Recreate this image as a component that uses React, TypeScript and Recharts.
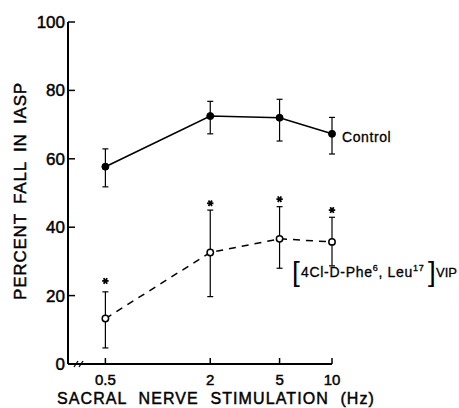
import React from 'react';
import {
  ComposedChart,
  Line,
  Scatter,
  XAxis,
  YAxis,
  ErrorBar,
  LabelList,
  Label,
} from 'recharts';

// stimulation frequency (Hz) and percent fall in IASP
const hz = [0.5, 2, 5, 10];
const controlMean = [57.7, 72.5, 72.0, 67.3];
const controlHigh = [62.9, 76.8, 77.4, 72.1];
const controlLow = [51.8, 67.3, 65.2, 61.4];
const vipMean = [13.3, 32.6, 36.6, 35.7];
const vipHigh = [21.1, 45.0, 46.0, 42.9];
const vipLow = [4.7, 19.7, 28.0, 28.7];
const starLevel = [24.3, 47.0, 48.2, 45.0];

const xTicks = [0.5, 2, 5, 10];
const yTicks = [0, 20, 40, 60, 80, 100];

const FONT = '"Liberation Sans", Arial, sans-serif';
// thin outline on text to get the heavier look of the printed figure
const ink = { fill: '#000', stroke: '#000', strokeWidth: 0.45 };

const rows = hz.map((f, i) => ({
  hz: f,
  control: controlMean[i],
  controlErr: [controlMean[i] - controlLow[i], controlHigh[i] - controlMean[i]],
  vip: vipMean[i],
  vipErr: [vipMean[i] - vipLow[i], vipHigh[i] - vipMean[i]],
  star: starLevel[i],
}));

// x ticks point up into the plot, label below
const XTick = (props: any) => {
  const { x, y, payload } = props;
  return (
    <g>
      <line x1={x} y1={y} x2={x} y2={y - 6} stroke="#000" strokeWidth={1.5} />
      <text x={x} y={y + 21} textAnchor="middle" fontSize={15} fontFamily={FONT} {...ink}>
        {payload.value}
      </text>
    </g>
  );
};

// y ticks point right into the plot; the 0 tick also carries the axis break
const YTick = (props: any) => {
  const { x, y, payload } = props;
  return (
    <g>
      {payload.value !== 0 && (
        <line x1={x} y1={y} x2={x + 7} y2={y} stroke="#000" strokeWidth={1.5} />
      )}
      {payload.value === 0 && (
        <g stroke="#000" strokeWidth={1.3}>
          <line x1={x + 6} y1={y + 3} x2={x + 10} y2={y - 3} />
          <line x1={x + 11} y1={y + 3} x2={x + 15} y2={y - 3} />
        </g>
      )}
      <text x={x - 3} y={y + 6} textAnchor="end" fontSize={17} fontFamily={FONT} {...ink}>
        {payload.value}
      </text>
    </g>
  );
};

const Star = (props: any) => {
  const { cx, cy } = props;
  if (cx == null || cy == null) return null;
  return (
    <g stroke="#000" strokeWidth={1.8}>
      <line x1={cx - 3.2} y1={cy} x2={cx + 3.2} y2={cy} />
      <line x1={cx - 1.7} y1={cy - 2.8} x2={cx + 1.7} y2={cy + 2.8} />
      <line x1={cx - 1.7} y1={cy + 2.8} x2={cx + 1.7} y2={cy - 2.8} />
    </g>
  );
};

const ControlLabel = (props: any) => {
  const { x, y, index } = props;
  if (index !== hz.length - 1) return null;
  return (
    <text x={x + 10} y={y + 8} fontSize={14} fontFamily={FONT} letterSpacing={0.6} {...ink} strokeWidth={0.3}>
      Control
    </text>
  );
};

const VipLabel = (props: any) => {
  const { x, y, index } = props;
  if (index !== hz.length - 1) return null;
  const bx = x - 40;
  const by = y + 35;
  return (
    <g fontFamily={FONT} fill="#000">
      <text x={bx} y={by + 4} fontSize={28} fontWeight={300}>[</text>
      <text x={bx + 9} y={by} fontSize={14} letterSpacing={0.7} {...ink} strokeWidth={0.3}>
        4Cl-D-Phe
        <tspan fontSize={9} dy={-6}>6</tspan>
        <tspan dy={6}>, Leu</tspan>
        <tspan fontSize={9} dy={-6}>17</tspan>
      </text>
      <text x={bx + 136} y={by + 4} fontSize={28} fontWeight={300}>]</text>
      <text x={bx + 144} y={by} fontSize={13} {...ink} strokeWidth={0.3}>VIP</text>
    </g>
  );
};

export default function App() {
  return (
    <div style={{ position: 'absolute', left: 0, top: 0, background: '#fff' }}>
      <ComposedChart
        width={459}
        height={408}
        data={rows}
        margin={{ top: 22, right: 127, bottom: 0, left: 0 }}
      >
        <XAxis
          dataKey="hz"
          type="number"
          scale="log"
          domain={[0.305, 10]}
          ticks={xTicks}
          height={44}
          tickSize={0}
          tickMargin={0}
          tickLine={false}
          axisLine={{ stroke: '#000', strokeWidth: 2 }}
          tick={<XTick />}
          interval={0}
        >
          <Label
            content={(p: any) => {
              const vb = p.viewBox;
              return (
                <text
                  x={vb.x + vb.width / 2 + 16}
                  y={vb.y + 40}
                  textAnchor="middle"
                  fontSize={16}
                  fontFamily={FONT}
                  letterSpacing={1.1}
                  wordSpacing={6}
                  {...ink}
                >
                  SACRAL NERVE STIMULATION (Hz)
                </text>
              );
            }}
          />
        </XAxis>
        <YAxis
          type="number"
          domain={[0, 100]}
          ticks={yTicks}
          width={68}
          tickSize={0}
          tickMargin={0}
          tickLine={false}
          axisLine={{ stroke: '#000', strokeWidth: 2 }}
          tick={<YTick />}
          interval={0}
        >
          <Label
            content={(p: any) => {
              const vb = p.viewBox;
              const cx = vb.x + 20;
              const cy = vb.y + vb.height / 2 - 2;
              return (
                <text
                  x={cx}
                  y={cy}
                  transform={`rotate(-90 ${cx} ${cy})`}
                  textAnchor="middle"
                  dominantBaseline="central"
                  fontSize={17}
                  fontFamily={FONT}
                  letterSpacing={0.8}
                  wordSpacing={4}
                  {...ink}
                >
                  PERCENT FALL IN IASP
                </text>
              );
            }}
          />
        </YAxis>
        <Line
          dataKey="control"
          stroke="#000"
          strokeWidth={1.6}
          dot={{ r: 3.5, fill: '#000', stroke: '#000', strokeWidth: 1 }}
          activeDot={false}
          isAnimationActive={false}
        >
          <ErrorBar dataKey="controlErr" width={3} stroke="#000" strokeWidth={1.2} />
          <LabelList dataKey="control" content={<ControlLabel />} />
        </Line>
        <Line
          dataKey="vip"
          stroke="#000"
          strokeWidth={1.5}
          strokeDasharray="7 6"
          dot={false}
          activeDot={false}
          isAnimationActive={false}
        >
          <ErrorBar dataKey="vipErr" width={3} stroke="#000" strokeWidth={1.2} />
          <LabelList dataKey="vip" content={<VipLabel />} />
        </Line>
        {/* open circles drawn on top of the error bars */}
        <Line
          dataKey="vip"
          stroke="none"
          dot={{ r: 3.2, fill: '#fff', stroke: '#000', strokeWidth: 1.5 }}
          activeDot={false}
          legendType="none"
          isAnimationActive={false}
        />
        <Scatter dataKey="star" shape={<Star />} isAnimationActive={false} />
      </ComposedChart>
    </div>
  );
}
